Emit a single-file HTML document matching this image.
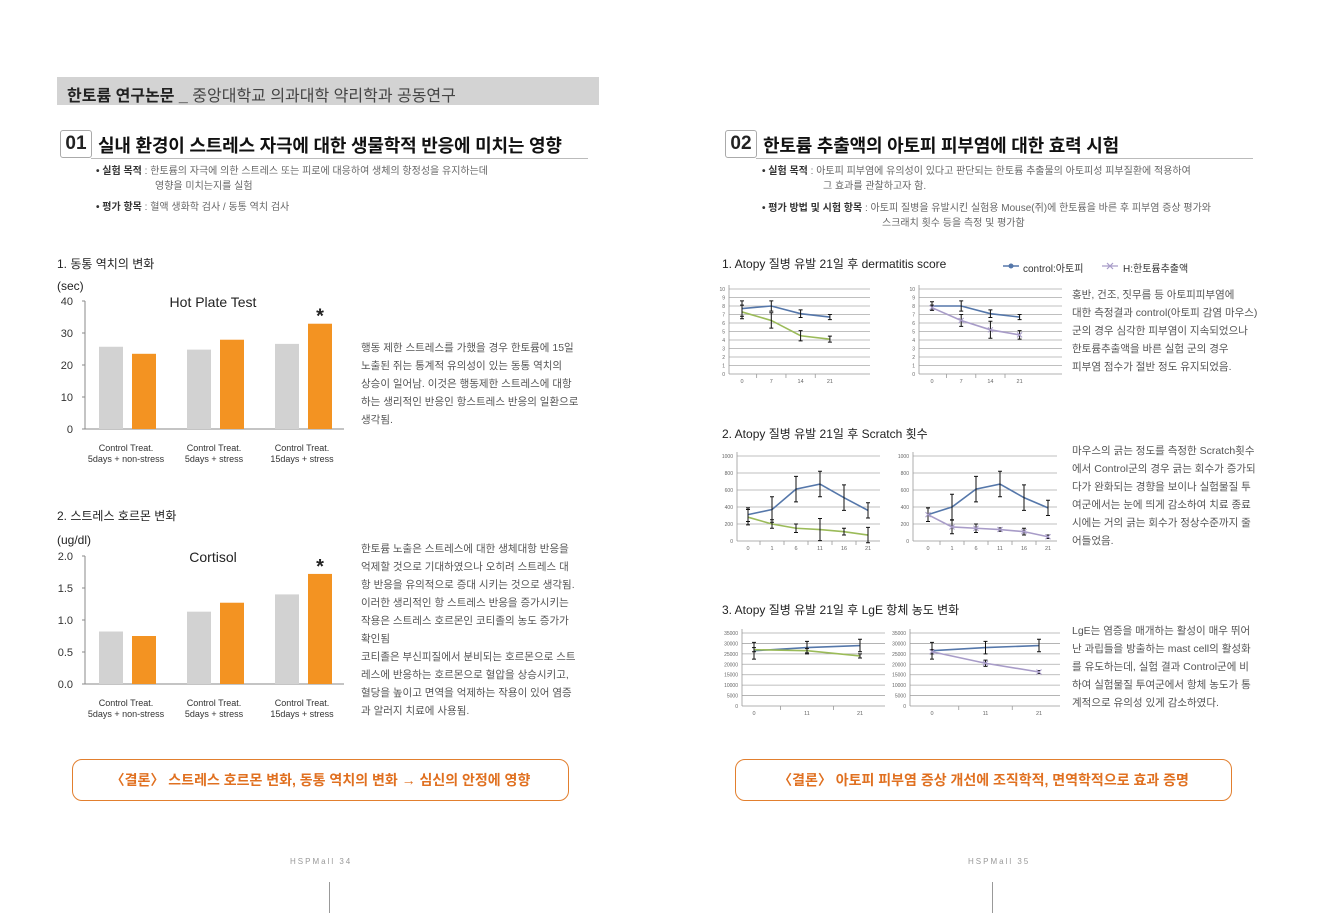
<!DOCTYPE html>
<html><head><meta charset="utf-8">
<style>
html,body{margin:0;padding:0;background:#fff;}
body{width:1324px;height:913px;position:relative;overflow:hidden;font-family:"Liberation Sans","Noto Sans CJK KR",sans-serif;color:#333;}
.a{position:absolute;white-space:nowrap;}
.p{font-size:10.5px;color:#555;line-height:18px;}
.b{font-size:10px;color:#666;line-height:15px;}
.b b{color:#333;}
.num{position:absolute;border:1px solid #aaa;border-radius:3px;font-size:19px;font-weight:bold;color:#222;text-align:center;line-height:26px;width:30px;height:26px;}
.ttl{position:absolute;font-size:18px;color:#111;font-weight:bold;top:132px;letter-spacing:-0.2px;}
.rule{position:absolute;height:1px;background:#bbb;}
.concl{position:absolute;border:1.5px solid #e27f2e;border-radius:10px;color:#e07020;font-weight:bold;font-size:14px;text-align:center;line-height:40px;}
.h3{font-size:12px;color:#222;}
</style></head><body>
<div class="a" style="left:57px;top:77px;width:542px;height:28px;background:#d3d3d3;"></div>
<div class="a" style="left:67px;top:82px;font-size:16px;color:#222;"><b>한토륨 연구논문 _</b> <span style="color:#444">중앙대학교 의과대학 약리학과 공동연구</span></div>

<div class="num" style="left:60px;top:130px;">01</div>
<div class="ttl" style="left:98px;">실내 환경이 스트레스 자극에 대한 생물학적 반응에 미치는 영향</div>
<div class="rule" style="left:91px;top:158px;width:497px;"></div>
<div class="a b" style="left:96px;top:164px;"><b>• 실험 목적</b> : 한토륨의 자극에 의한 스트레스 또는 피로에 대응하여 생체의 항정성을 유지하는데<br><span style="padding-left:59px">영향을 미치는지를 실험</span></div>
<div class="a b" style="left:96px;top:200px;"><b>• 평가 항목</b> : 혈액 생화학 검사 / 동통 역치 검사</div>

<div class="a h3" style="left:57px;top:255px;">1. 동통 역치의 변화</div>
<div class="a h3" style="left:57px;top:507px;">2. 스트레스 호르몬 변화</div>

<div class="a p" style="left:361px;top:339px;">행동 제한 스트레스를 가했을 경우 한토륨에 15일<br>노출된 쥐는 통계적 유의성이 있는 동통 역치의<br>상승이 일어남. 이것은 행동제한 스트레스에 대항<br>하는 생리적인 반응인 항스트레스 반응의 일환으로<br>생각됨.</div>
<div class="a p" style="left:361px;top:540px;">한토륨 노출은 스트레스에 대한 생체대항 반응을<br>억제할 것으로 기대하였으나 오히려 스트레스 대<br>항 반응을 유의적으로 증대 시키는 것으로 생각됨.</div>
<div class="a p" style="left:361px;top:594px;">이러한 생리적인 항 스트레스 반응을 증가시키는<br>작용은 스트레스 호르몬인 코티졸의 농도 증가가<br>확인됨</div>
<div class="a p" style="left:361px;top:648px;">코티졸은 부신피질에서 분비되는 호르몬으로 스트<br>레스에 반응하는 호르몬으로 혈압을 상승시키고,<br>혈당을 높이고 면역을 억제하는 작용이 있어 염증<br>과 알러지 치료에 사용됨.</div>

<div class="concl" style="left:72px;top:759px;width:495px;height:40px;">〈결론〉 스트레스 호르몬 변화, 동통 역치의 변화 → 심신의 안정에 영향</div>
<div class="a" style="left:290px;top:857px;font-size:8px;letter-spacing:2px;color:#999;">HSPMall 34</div>
<div class="a" style="left:329px;top:882px;width:1px;height:31px;background:#999;"></div>

<div class="num" style="left:725px;top:130px;">02</div>
<div class="ttl" style="left:763px;">한토륨 추출액의 아토피 피부염에 대한 효력 시험</div>
<div class="rule" style="left:756px;top:158px;width:497px;"></div>
<div class="a b" style="left:762px;top:164px;"><b>• 실험 목적</b> : 아토피 피부염에 유의성이 있다고 판단되는 한토륨 추출물의 아토피성 피부질환에 적용하여<br><span style="padding-left:61px">그 효과를 관찰하고자 함.</span></div>
<div class="a b" style="left:762px;top:201px;"><b>• 평가 방법 및 시험 항목</b> : 아토피 질병을 유발시킨 실험용 Mouse(쥐)에 한토륨을 바른 후 피부염 증상 평가와<br><span style="padding-left:120px">스크래치 횟수 등을 측정 및 평가함</span></div>

<div class="a h3" style="left:722px;top:255px;">1. Atopy 질병 유발 21일 후 dermatitis score</div>
<div class="a h3" style="left:722px;top:425px;">2. Atopy 질병 유발 21일 후 Scratch 횟수</div>
<div class="a h3" style="left:722px;top:601px;">3. Atopy 질병 유발 21일 후 LgE 항체 농도 변화</div>
<div class="a" style="left:1023px;top:260px;font-size:10px;color:#333;">control:아토피</div>
<div class="a" style="left:1123px;top:260px;font-size:10px;color:#333;">H:한토륨추출액</div>

<div class="a p" style="left:1072px;top:286px;">홍반, 건조, 짓무름 등 아토피피부염에<br>대한 측정결과 control(아토피 감염 마우스)<br>군의 경우 심각한 피부염이 지속되었으나<br>한토륨추출액을 바른 실험 군의 경우<br>피부염 점수가 절반 정도 유지되었음.</div>
<div class="a p" style="left:1072px;top:442px;">마우스의 긁는 정도를 측정한 Scratch횟수<br>에서 Control군의 경우 긁는 회수가 증가되<br>다가 완화되는 경향을 보이나 실험물질 투<br>여군에서는 눈에 띄게 감소하여 치료 종료<br>시에는 거의 긁는 회수가 정상수준까지 줄<br>어들었음.</div>
<div class="a p" style="left:1072px;top:622px;">LgE는 염증을 매개하는 활성이 매우 뛰어<br>난 과립들을 방출하는 mast cell의 활성화<br>를 유도하는데, 실험 결과 Control군에 비<br>하여 실험물질 투여군에서 항체 농도가 통<br>계적으로 유의성 있게 감소하였다.</div>

<div class="concl" style="left:735px;top:759px;width:495px;height:40px;">〈결론〉 아토피 피부염 증상 개선에 조직학적, 면역학적으로 효과 증명</div>
<div class="a" style="left:968px;top:857px;font-size:8px;letter-spacing:2px;color:#999;">HSPMall 35</div>
<div class="a" style="left:992px;top:882px;width:1px;height:31px;background:#999;"></div>

<svg id="chartsvg" width="1324" height="913" style="position:absolute;left:0;top:0;font-family:'Liberation Sans',sans-serif;"></svg>

<script>
// ---- bar chart data ----
const barGroups = ["Control Treat.|5days + non-stress", "Control Treat.|5days + stress", "Control Treat.|15days + stress"];
const hotControl = [25.7, 24.8, 26.6];
const hotTreat = [23.5, 27.9, 32.9];
const hotTicks = [0, 10, 20, 30, 40];
const cortControl = [0.82, 1.13, 1.4];
const cortTreat = [0.75, 1.27, 1.72];
const cortTicks = ["0.0", "0.5", "1.0", "1.5", "2.0"];
// ---- line chart data ----
const dermDays = ["0", "7", "14", "21"];
const dermControl = [7.7, 8.0, 7.1, 6.7];
const dermControlErr = [0.9, 0.6, 0.45, 0.3];
const dermGreen = [7.3, 6.3, 4.5, 4.1];
const dermGreenErr = [0.8, 0.9, 0.6, 0.35];
const dermControl2 = [8.0, 8.0, 7.1, 6.7];
const dermControl2Err = [0.5, 0.6, 0.45, 0.3];
const dermTreat = [7.8, 6.3, 5.2, 4.6];
const dermTreatErr = [0.3, 0.7, 1.0, 0.5];
const dermTicks = [0,1,2,3,4,5,6,7,8,9,10];
const scrDays = ["0", "1", "6", "11", "16", "21"];
const scrControl = [310, 370, 610, 670, 510, 360];
const scrControlErr = [80, 150, 150, 150, 150, 90];
const scrGreen = [280, 200, 150, 135, 110, 70];
const scrGreenErr = [90, 50, 50, 130, 40, 90];
const scrControl2 = [310, 400, 610, 670, 510, 390];
const scrTreat = [310, 165, 150, 135, 110, 50];
const scrTreatErr = [80, 80, 50, 20, 40, 20];
const scrTicks = [0, 200, 400, 600, 800, 1000];
const igeDays = ["0", "11", "21"];
const igeControl = [26500, 28000, 29000];
const igeControlErr = [4000, 3000, 3000];
const igeGreen = [27000, 26500, 24000];
const igeGreenErr = [1000, 1000, 1000];
const igeTreat = [26000, 20500, 16300];
const igeTreatErr = [1000, 1500, 700];
const igeTicks = [0, 5000, 10000, 15000, 20000, 25000, 30000, 35000];

const NS = "http://www.w3.org/2000/svg";
const svg = document.getElementById("chartsvg");
function mk(tag, attrs, parent) {
  const e = document.createElementNS(NS, tag);
  for (const k in attrs) e.setAttribute(k, attrs[k]);
  (parent || svg).appendChild(e);
  return e;
}

function barChart(cfg) {
  const g = mk("g", {});
  
  
  const y = v => cfg.y0 - (v / cfg.max) * (cfg.y0 - cfg.y1);
  const gx = i => cfg.x0 + cfg.groupW * i + cfg.groupW / 2;
  const ax = mk("line", {x1: cfg.ax, y1: cfg.y1, x2: cfg.ax, y2: cfg.y0, stroke: "#888"}, g);
  
  
  const bx = mk("line", {x1: cfg.ax, y1: cfg.y0, x2: cfg.xEnd, y2: cfg.y0, stroke: "#888"}, g);
  
  
  cfg.ticks.forEach(t => {
    const v = parseFloat(t);
    mk("line", {x1: cfg.ax - 3, x2: cfg.ax, y1: y(v), y2: y(v), stroke: "#888"}, g);
    const tx = mk("text", {x: cfg.ax - 12, y: y(v) + 4, "text-anchor": "end", "font-size": 11, fill: "#333"}, g);
    tx.textContent = t;
    
    
  });
  cfg.groups.forEach((lab, i) => {
    const c = mk("rect", {x: gx(i) - 27, y: y(cfg.a[i]), width: 24, height: cfg.y0 - y(cfg.a[i]), fill: "#d2d2d2"}, g);
    
    
    const t = mk("rect", {x: gx(i) + 6, y: y(cfg.b[i]), width: 24, height: cfg.y0 - y(cfg.b[i]), fill: "#f39322"}, g);
    
    
    lab.split("|").forEach((s, k) => {
      const tx = mk("text", {x: gx(i), y: cfg.y0 + 22 + k * 11, "text-anchor": "middle", "font-size": 9, fill: "#333"}, g);
      tx.textContent = s;
      
      
    });
  });
  const last = cfg.groups.length - 1;
  const st = mk("text", {x: gx(last) + 18, y: y(cfg.b[last]) - 1, "text-anchor": "middle", "font-size": 20, "font-weight": "bold", fill: "#222"}, g);
  st.textContent = "*";
  
  
  const ti = mk("text", {x: cfg.titleX, y: cfg.titleY, "text-anchor": "middle", "font-size": 14, fill: "#222"}, g);
  ti.textContent = cfg.title;
  
  
  const un = mk("text", {x: 57, y: cfg.unitY, "font-size": 12, fill: "#222"}, g);
  un.textContent = cfg.unit;
  
  
}

barChart({name: "hot-plate-chart", groups: barGroups, a: hotControl, b: hotTreat, ticks: hotTicks.map(String), max: 40,
  ax: 85, xEnd: 344, x0: 82, groupW: 88, y0: 429, y1: 301, title: "Hot Plate Test", titleX: 213, titleY: 307, unit: "(sec)", unitY: 290});
barChart({name: "cortisol-chart", groups: barGroups, a: cortControl, b: cortTreat, ticks: cortTicks, max: 2,
  ax: 85, xEnd: 344, x0: 82, groupW: 88, y0: 684, y1: 556, title: "Cortisol", titleX: 213, titleY: 562, unit: "(ug/dl)", unitY: 544});

function lineChart(cfg) {
  const g = mk("g", {});
  
  
  const y = v => cfg.y0 - (v / cfg.max) * (cfg.y0 - cfg.y1);
  const x = i => cfg.cx0 + cfg.step * i;
  cfg.ticks.forEach(t => {
    const gl = mk("line", {x1: cfg.gx0, x2: cfg.gx1, y1: y(t), y2: y(t), stroke: t === 0 ? "#999" : "#aaa", "stroke-width": 0.8}, g);
    
    
    const tx = mk("text", {x: cfg.gx0 - 4, y: y(t) + 2, "text-anchor": "end", "font-size": 5, fill: "#666"}, g);
    tx.textContent = t;
    
    
  });
  mk("line", {x1: cfg.gx0, x2: cfg.gx0, y1: cfg.y1 - 4, y2: cfg.y0, stroke: "#999", "stroke-width": 0.8}, g);
  cfg.cats.forEach((c, i) => {
    const tx = mk("text", {x: x(i), y: cfg.y0 + 9, "text-anchor": "middle", "font-size": 5.5, fill: "#666"}, g);
    tx.textContent = c;
    
    
    if (i > 0) mk("line", {x1: x(i) - cfg.step / 2, x2: x(i) - cfg.step / 2, y1: cfg.y0, y2: cfg.y0 + 4, stroke: "#999", "stroke-width": 0.8}, g);
  });
  cfg.series.forEach(s => {
    const pts = s.v.map((v, i) => x(i) + "," + y(v)).join(" ");
    const pl = mk("polyline", {points: pts, fill: "none", stroke: s.color, "stroke-width": 1.6}, g);
    
    
    if (s.err) s.v.forEach((v, i) => {
      const e = s.err[i], xx = x(i) + (s.dx || 0);
      const eb = mk("path", {d: `M${xx},${y(v - e)}V${y(v + e)}M${xx - 2},${y(v - e)}h4M${xx - 2},${y(v + e)}h4`, stroke: "#111", "stroke-width": 1, fill: "none"}, g);
      
      
    });
    if (s.marker === "x") s.v.forEach((v, i) => {
      const mx = mk("path", {d: `M${x(i) - 2.5},${y(v) - 2.5}l5,5M${x(i) + 2.5},${y(v) - 2.5}l-5,5`, stroke: s.color, "stroke-width": 1}, g);
      
      
    });
  });
}
const BLUE = "#5577aa", GREEN = "#9bbb59", PURP = "#a89cc8";
lineChart({name: "dermatitis-chart-a", cats: dermDays, ticks: dermTicks, max: 10, y0: 374, y1: 289, gx0: 729, gx1: 870, cx0: 742, step: 29.3,
  series: [{name: "series-control", v: dermControl, err: dermControlErr, color: BLUE}, {name: "series-green", v: dermGreen, err: dermGreenErr, color: GREEN}]});
lineChart({name: "dermatitis-chart-b", cats: dermDays, ticks: dermTicks, max: 10, y0: 374, y1: 289, gx0: 919, gx1: 1062, cx0: 932, step: 29.2,
  series: [{name: "series-control", v: dermControl2, err: dermControl2Err, color: BLUE}, {name: "series-treatment", v: dermTreat, err: dermTreatErr, color: PURP, marker: "x"}]});
lineChart({name: "scratch-chart-a", cats: scrDays, ticks: scrTicks, max: 1000, y0: 541, y1: 456, gx0: 737, gx1: 880, cx0: 748, step: 24,
  series: [{name: "series-control", v: scrControl, err: scrControlErr, color: BLUE}, {name: "series-green", v: scrGreen, err: scrGreenErr, color: GREEN}]});
lineChart({name: "scratch-chart-b", cats: scrDays, ticks: scrTicks, max: 1000, y0: 541, y1: 456, gx0: 913, gx1: 1057, cx0: 928, step: 24,
  series: [{name: "series-control", v: scrControl2, err: scrControlErr, color: BLUE}, {name: "series-treatment", v: scrTreat, err: scrTreatErr, color: PURP, marker: "x"}]});
lineChart({name: "ige-chart-a", cats: igeDays, ticks: igeTicks, max: 35000, y0: 706, y1: 633, gx0: 742, gx1: 885, cx0: 754, step: 53,
  series: [{name: "series-control", v: igeControl, err: igeControlErr, color: BLUE}, {name: "series-green", v: igeGreen, err: igeGreenErr, color: GREEN}]});
lineChart({name: "ige-chart-b", cats: igeDays, ticks: igeTicks, max: 35000, y0: 706, y1: 633, gx0: 910, gx1: 1060, cx0: 932, step: 53.5,
  series: [{name: "series-control", v: igeControl, err: igeControlErr, color: BLUE}, {name: "series-treatment", v: igeTreat, err: igeTreatErr, color: PURP, marker: "x"}]});

const l1 = mk("path", {d: "M1003,266h16", stroke: BLUE, "stroke-width": 1.5});


const l1d = mk("circle", {cx: 1011, cy: 266, r: 2.5, fill: BLUE});


const l2 = mk("path", {d: "M1102,266h16M1107,263l6,6M1113,263l-6,6", stroke: PURP, "stroke-width": 1.2});


</script>
</body></html>
